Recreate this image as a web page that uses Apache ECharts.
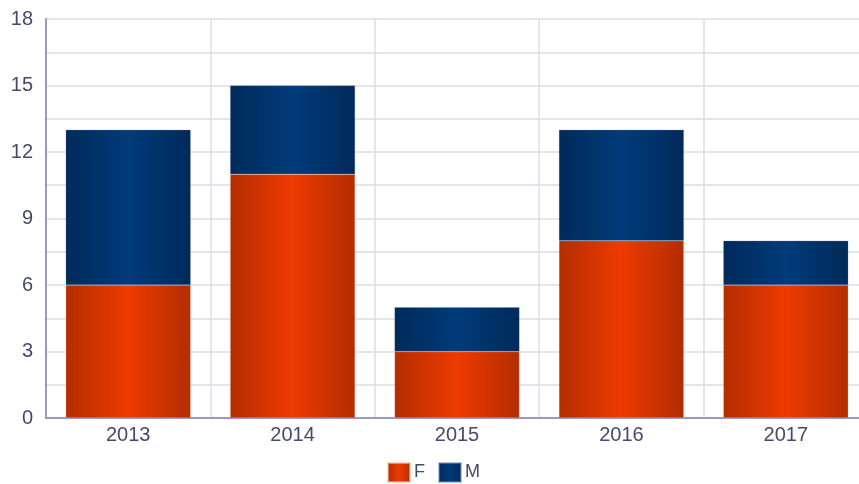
<!DOCTYPE html>
<html><head><meta charset="utf-8">
<script src="https://cdn.jsdelivr.net/npm/echarts@6/dist/echarts.min.js"></script>
<style>html,body{margin:0;padding:0;background:#fff;overflow:hidden;width:859px;height:484px}#c{width:868px;height:484px}</style>
</head><body><div id="c"></div>
<script>
const categories = ['2013','2014','2015','2016','2017'];
const seriesF = [6, 11, 3, 8, 6];
const seriesM = [7, 4, 2, 5, 2];
const yTicks = [0, 3, 6, 9, 12, 15, 18];

function grad(edge, mid){
  return new echarts.graphic.LinearGradient(0,0,1,0,[
    {offset:0,color:edge},{offset:0.5,color:mid},{offset:1,color:edge}]);
}
const chart = echarts.init(document.getElementById('c'), null, {renderer:'canvas'});
chart.setOption({
  animation:false,
  grid:{left:46, right:0, top:19, bottom:66},
  legend:{bottom:1, left:387, padding:0, itemWidth:22, itemHeight:19, itemGap:13,
    textStyle:{fontFamily:'Liberation Sans, Arial', fontSize:18, color:'#454a6a', padding:[0,0,0,-1]},
    data:[{name:'F', icon:'rect', itemStyle:{color:grad('#b32d00','#ee3a00')}},
          {name:'M', icon:'rect', itemStyle:{color:grad('#002a5a','#003b7a')}}]},
  xAxis:{type:'category', data:categories,
    axisLine:{lineStyle:{color:'#9a9ac0', width:2}},
    axisTick:{show:false},
    axisLabel:{fontFamily:'Liberation Sans, Arial', fontSize:20, color:'#454a6a', margin:7},
    splitLine:{show:true, lineStyle:{color:'#dcdce8', width:1.5}}},
  yAxis:{type:'value', min:0, max:18, interval:3,
    axisLine:{show:true, lineStyle:{color:'#9a9ac0', width:2}},
    axisTick:{show:false},
    axisLabel:{fontFamily:'Liberation Sans, Arial', fontSize:20, color:'#454a6a', margin:13,
      formatter:v=>yTicks.includes(v)?String(v):''},
    splitLine:{lineStyle:{color:'#dcdce8', width:1.5}},
    minorTick:{show:false, splitNumber:2},
    minorSplitLine:{show:true, lineStyle:{color:'#dcdce8', width:1.5}}},
  series:[
    {name:'F', type:'bar', stack:'s', data:seriesF, barWidth:'76%',
     itemStyle:{color:grad('#b32d00','#ee3a00'), borderColor:'rgba(255,190,170,0.6)', borderWidth:0.5}},
    {name:'M', type:'bar', stack:'s', data:seriesM, barWidth:'76%',
     itemStyle:{color:grad('#002a5a','#003b7a'), borderColor:'rgba(120,140,190,0.5)', borderWidth:0.5}}
  ]
});
</script></body></html>
